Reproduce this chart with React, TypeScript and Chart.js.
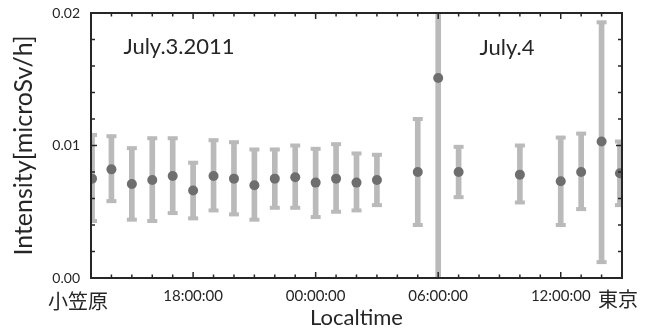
import React, { useEffect, useRef } from "react";
import { Chart, registerables } from "chart.js";

Chart.register(...registerables);

// Hours counted from 2011-07-03 00:00 local time
const hours = [13.05, 14, 15, 16, 17, 18, 19, 20, 21, 22, 23, 24, 25, 26, 27, 29, 30, 31, 34, 36, 37, 38, 38.9];
const intensity = [0.0075, 0.0082, 0.0071, 0.0074, 0.0077, 0.0066, 0.0077, 0.0075, 0.007, 0.0075, 0.0076, 0.0072, 0.0075, 0.0072, 0.0074, 0.008, 0.0151, 0.008, 0.0078, 0.0073, 0.008, 0.0103, 0.0079];
const upper = [0.0108, 0.0107, 0.0098, 0.01055, 0.01055, 0.0087, 0.0104, 0.01025, 0.0097, 0.0097, 0.01, 0.00975, 0.0101, 0.0094, 0.0093, 0.012, 0.03, 0.0099, 0.01, 0.0106, 0.0109, 0.0193, 0.0103];
const lower = [0.0043, 0.0058, 0.0044, 0.0043, 0.0049, 0.0045, 0.0051, 0.0048, 0.0044, 0.0053, 0.0053, 0.0046, 0.005, 0.0051, 0.0055, 0.004, -0.01, 0.0061, 0.0057, 0.004, 0.0052, 0.0012, 0.0055];

const xMin = 13;
const xMax = 39;
const tickHours = Array.from({ length: xMax - xMin + 1 }, (_, i) => xMin + i);
const labelHours = [18, 24, 30, 36];
const yMin = 0;
const yMax = 0.02;
const yStep = 0.002;
const yLabelValues = [0, 0.01, 0.02];
const dateLabels = ["July.3.2011", "July.4"];
const siteLabels = ["小笠原", "東京"];
const xTitle = "Localtime";
const yTitle = "Intensity[microSv/h]";

const BAR = "#bababa";
const DOT = "#6e6e6e";
const INK = "#262626";
const LATIN = "Lato, 'Open Sans', sans-serif";
const CJK = "'Noto Sans CJK JP', 'Noto Sans CJK SC', sans-serif";

const fmtHour = (v: number) => {
  const h = ((Math.round(v) % 24) + 24) % 24;
  return String(h).padStart(2, "0") + ":00:00";
};
const isYLabel = (v: number) => yLabelValues.some((l) => Math.abs(l - v) < 1e-9);

const framePlugin = {
  id: "frame",
  afterDraw(chart: any) {
    const { ctx, chartArea } = chart;
    const { left, right, top, bottom } = chartArea;
    const x = chart.scales.x;
    const y = chart.scales.y;
    ctx.save();
    ctx.strokeStyle = INK;
    ctx.lineWidth = 1.5;
    const line = (x1: number, y1: number, x2: number, y2: number) => {
      ctx.beginPath();
      ctx.moveTo(x1, y1);
      ctx.lineTo(x2, y2);
      ctx.stroke();
    };
    x.ticks.forEach((t: any) => {
      const px = x.getPixelForValue(t.value);
      const len = labelHours.includes(t.value) ? 6 : 3.5;
      line(px, bottom, px, bottom - len);
      line(px, top, px, top + len);
    });
    y.ticks.forEach((t: any) => {
      const py = y.getPixelForValue(t.value);
      const len = isYLabel(t.value) ? 6 : 4;
      line(left, py, left + len, py);
      line(right, py, right - len, py);
    });
    ctx.lineWidth = 2;
    ctx.strokeRect(left, top, right - left, bottom - top);

    ctx.fillStyle = INK;
    ctx.textAlign = "center";
    ctx.textBaseline = "middle";
    ctx.font = `22px ${LATIN}`;
    ctx.fillText(dateLabels[0], left + 88, top + 34);
    ctx.fillText(dateLabels[1], left + 416, top + 35);
    ctx.font = `20px ${CJK}`;
    ctx.fillText(siteLabels[0], left - 13, bottom + 23);
    ctx.fillText(siteLabels[1], right - 4, bottom + 21);
    ctx.restore();
  },
};

export default function App() {
  const ref = useRef<HTMLCanvasElement | null>(null);
  useEffect(() => {
    if (!ref.current) return;
    const bars = hours.map((h, i) => ({ x: h, y: [lower[i], upper[i]] }));
    const caps = hours
      .map((h, i) => ({ x: h, y: upper[i] }))
      .concat(hours.map((h, i) => ({ x: h, y: lower[i] })));
    const dots = hours.map((h, i) => ({ x: h, y: intensity[i] }));
    const chart = new Chart(ref.current, {
      type: "scatter",
      data: {
        datasets: [
          {
            type: "bar",
            data: bars as any,
            backgroundColor: BAR,
            barThickness: 5,
            grouped: false,
            clip: 0,
            order: 3,
          } as any,
          {
            type: "scatter",
            data: caps,
            pointStyle: "line",
            pointRadius: 5,
            pointBorderWidth: 4,
            borderColor: BAR,
            pointBorderColor: BAR,
            clip: 0,
            order: 2,
          } as any,
          {
            type: "scatter",
            data: dots,
            pointRadius: 5,
            pointBackgroundColor: DOT,
            backgroundColor: DOT,
            pointBorderWidth: 0,
            borderWidth: 0,
            clip: 0,
            order: 1,
          } as any,
        ],
      },
      options: {
        responsive: false,
        animation: false,
        devicePixelRatio: 1,
        layout: { padding: { top: 13, right: 32, left: 0, bottom: 0 } },
        plugins: { legend: { display: false }, tooltip: { enabled: false } },
        scales: {
          x: {
            type: "linear",
            min: xMin,
            max: xMax,
            offset: false,
            grid: { display: false },
            border: { display: false },
            afterBuildTicks: (s: any) => {
              s.ticks = tickHours.map((v) => ({ value: v }));
            },
            afterFit: (s: any) => {
              s.height = 53;
            },
            ticks: {
              autoSkip: false,
              maxRotation: 0,
              minRotation: 0,
              padding: 1,
              color: INK,
              font: { family: LATIN, size: 15 },
              callback: (v: any) => (labelHours.includes(Number(v)) ? fmtHour(Number(v)) : ""),
            },
            title: {
              display: true,
              text: xTitle,
              color: INK,
              font: { family: LATIN, size: 22 },
              padding: { top: 0, bottom: 0 },
            },
          },
          y: {
            type: "linear",
            min: yMin,
            max: yMax,
            grid: { display: false },
            border: { display: false },
            afterFit: (s: any) => {
              s.width = 91;
            },
            ticks: {
              stepSize: yStep,
              autoSkip: false,
              padding: 3,
              color: INK,
              font: { family: LATIN, size: 14 },
              callback: (v: any) => (isYLabel(Number(v)) ? Number(v).toFixed(2) : ""),
            },
            title: {
              display: true,
              text: yTitle,
              color: INK,
              font: { family: LATIN, size: 25 },
              padding: { top: 9, bottom: 0 },
            },
          },
        },
      } as any,
      plugins: [framePlugin as any],
    });
    return () => chart.destroy();
  }, []);
  return (
    <div style={{ position: "absolute", left: 0, top: 0, width: 654, height: 331, background: "#fff" }}>
      <canvas ref={ref} width={654} height={331} style={{ display: "block" }} />
    </div>
  );
}
